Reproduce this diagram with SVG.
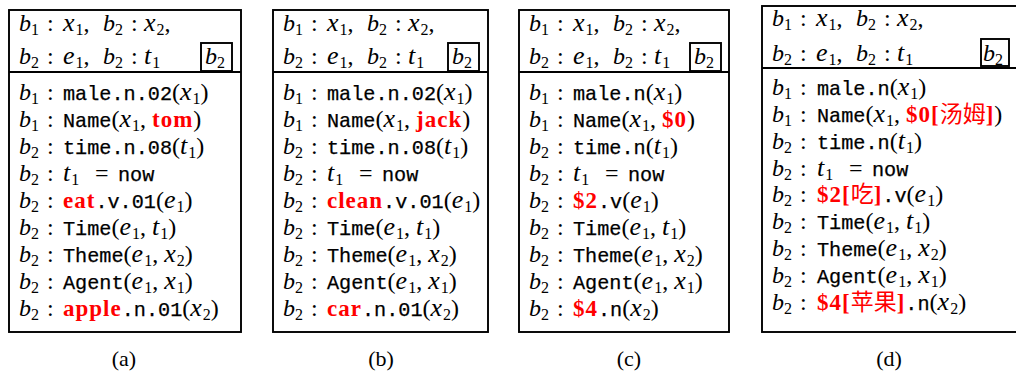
<svg xmlns="http://www.w3.org/2000/svg" width="1016" height="375" viewBox="0 0 1016 375">
<style>
text { font-family: "Liberation Serif", serif; font-size: 24px; fill: #000; }
.b { font-style: italic; }
.v { font-style: italic; font-size: 26px; letter-spacing: 1px; }
.s { font-size: 16px; font-style: normal; letter-spacing: 0; }
.m { font-family: "Liberation Mono", monospace; font-size: 20.2px; stroke: #000; stroke-width: 0.25px; }
.r { font-weight: bold; fill: #ff0000; font-size: 23px; letter-spacing: 1px; }
.cjk { font-family: "Noto Sans CJK SC", sans-serif; font-weight: normal; font-size: 23px; letter-spacing: 0; }
.frame { fill: none; stroke: #000; stroke-width: 1.9; }
.cap { font-size: 22px; text-anchor: middle; }
</style>
<rect width="1016" height="375" fill="#fff"/>

<g id="box-a" transform="translate(9,0)">
<rect class="frame" x="0" y="10" width="232" height="322"/>
<line class="frame" x1="0" y1="72" x2="232" y2="72"/>
<rect class="frame" x="192" y="43" width="31" height="28"/>
<text y="31"><tspan x="10" class="b">b</tspan><tspan class="s" dy="4">1</tspan><tspan x="38" dy="-4">:</tspan><tspan x="54" class="v">x</tspan><tspan class="s" dy="4">1</tspan><tspan dy="-4">,</tspan><tspan x="94" class="b">b</tspan><tspan class="s" dy="4">2</tspan><tspan x="122" dy="-4">:</tspan><tspan x="135" class="v">x</tspan><tspan class="s" dy="4">2</tspan><tspan dy="-4">,</tspan></text>
<text y="64"><tspan x="10" class="b">b</tspan><tspan class="s" dy="4">2</tspan><tspan x="38" dy="-4">:</tspan><tspan x="54" class="v">e</tspan><tspan class="s" dy="4">1</tspan><tspan dy="-4">,</tspan><tspan x="94" class="b">b</tspan><tspan class="s" dy="4">2</tspan><tspan x="122" dy="-4">:</tspan><tspan x="135" class="v">t</tspan><tspan class="s" dy="4">1</tspan></text>
<text y="64"><tspan x="196" class="b">b</tspan><tspan class="s" dy="4">2</tspan></text>
<text y="100"><tspan x="10" class="b">b</tspan><tspan class="s" dy="4">1</tspan><tspan x="38" dy="-4">:</tspan><tspan x="54" class="m">male.n.02</tspan>(<tspan class="v">x</tspan><tspan class="s" dy="4">1</tspan><tspan dy="-4">)</tspan></text>
<text y="127"><tspan x="10" class="b">b</tspan><tspan class="s" dy="4">1</tspan><tspan x="38" dy="-4">:</tspan><tspan x="54" class="m">Name</tspan>(<tspan class="v">x</tspan><tspan class="s" dy="4">1</tspan><tspan dy="-4">, </tspan><tspan class="r">tom</tspan>)</text>
<text y="154"><tspan x="10" class="b">b</tspan><tspan class="s" dy="4">2</tspan><tspan x="38" dy="-4">:</tspan><tspan x="54" class="m">time.n.08</tspan>(<tspan class="v">t</tspan><tspan class="s" dy="4">1</tspan><tspan dy="-4">)</tspan></text>
<text y="181"><tspan x="10" class="b">b</tspan><tspan class="s" dy="4">2</tspan><tspan x="38" dy="-4">:</tspan><tspan x="54" class="v">t</tspan><tspan class="s" dy="4">1</tspan><tspan x="86" dy="-4">=</tspan><tspan x="109" class="m">now</tspan></text>
<text y="208"><tspan x="10" class="b">b</tspan><tspan class="s" dy="4">2</tspan><tspan x="38" dy="-4">:</tspan><tspan x="54" class="r">eat</tspan><tspan class="m">.v.01</tspan>(<tspan class="v">e</tspan><tspan class="s" dy="4">1</tspan><tspan dy="-4">)</tspan></text>
<text y="235"><tspan x="10" class="b">b</tspan><tspan class="s" dy="4">2</tspan><tspan x="38" dy="-4">:</tspan><tspan x="54" class="m">Time</tspan>(<tspan class="v">e</tspan><tspan class="s" dy="4">1</tspan><tspan dy="-4">, </tspan><tspan class="v">t</tspan><tspan class="s" dy="4">1</tspan><tspan dy="-4">)</tspan></text>
<text y="262"><tspan x="10" class="b">b</tspan><tspan class="s" dy="4">2</tspan><tspan x="38" dy="-4">:</tspan><tspan x="54" class="m">Theme</tspan>(<tspan class="v">e</tspan><tspan class="s" dy="4">1</tspan><tspan dy="-4">, </tspan><tspan class="v">x</tspan><tspan class="s" dy="4">2</tspan><tspan dy="-4">)</tspan></text>
<text y="289"><tspan x="10" class="b">b</tspan><tspan class="s" dy="4">2</tspan><tspan x="38" dy="-4">:</tspan><tspan x="54" class="m">Agent</tspan>(<tspan class="v">e</tspan><tspan class="s" dy="4">1</tspan><tspan dy="-4">, </tspan><tspan class="v">x</tspan><tspan class="s" dy="4">1</tspan><tspan dy="-4">)</tspan></text>
<text y="316"><tspan x="10" class="b">b</tspan><tspan class="s" dy="4">2</tspan><tspan x="38" dy="-4">:</tspan><tspan x="54" class="r">apple</tspan><tspan class="m">.n.01</tspan>(<tspan class="v">x</tspan><tspan class="s" dy="4">2</tspan><tspan dy="-4">)</tspan></text>
</g>

<g id="box-b" transform="translate(273,0)">
<rect class="frame" x="0" y="10" width="215" height="322"/>
<line class="frame" x1="0" y1="72" x2="215" y2="72"/>
<rect class="frame" x="175" y="43" width="31" height="28"/>
<text y="31"><tspan x="10" class="b">b</tspan><tspan class="s" dy="4">1</tspan><tspan x="38" dy="-4">:</tspan><tspan x="54" class="v">x</tspan><tspan class="s" dy="4">1</tspan><tspan dy="-4">,</tspan><tspan x="94" class="b">b</tspan><tspan class="s" dy="4">2</tspan><tspan x="122" dy="-4">:</tspan><tspan x="135" class="v">x</tspan><tspan class="s" dy="4">2</tspan><tspan dy="-4">,</tspan></text>
<text y="64"><tspan x="10" class="b">b</tspan><tspan class="s" dy="4">2</tspan><tspan x="38" dy="-4">:</tspan><tspan x="54" class="v">e</tspan><tspan class="s" dy="4">1</tspan><tspan dy="-4">,</tspan><tspan x="94" class="b">b</tspan><tspan class="s" dy="4">2</tspan><tspan x="122" dy="-4">:</tspan><tspan x="135" class="v">t</tspan><tspan class="s" dy="4">1</tspan></text>
<text y="64"><tspan x="179" class="b">b</tspan><tspan class="s" dy="4">2</tspan></text>
<text y="100"><tspan x="10" class="b">b</tspan><tspan class="s" dy="4">1</tspan><tspan x="38" dy="-4">:</tspan><tspan x="54" class="m">male.n.02</tspan>(<tspan class="v">x</tspan><tspan class="s" dy="4">1</tspan><tspan dy="-4">)</tspan></text>
<text y="127"><tspan x="10" class="b">b</tspan><tspan class="s" dy="4">1</tspan><tspan x="38" dy="-4">:</tspan><tspan x="54" class="m">Name</tspan>(<tspan class="v">x</tspan><tspan class="s" dy="4">1</tspan><tspan dy="-4">, </tspan><tspan class="r">jack</tspan>)</text>
<text y="154"><tspan x="10" class="b">b</tspan><tspan class="s" dy="4">2</tspan><tspan x="38" dy="-4">:</tspan><tspan x="54" class="m">time.n.08</tspan>(<tspan class="v">t</tspan><tspan class="s" dy="4">1</tspan><tspan dy="-4">)</tspan></text>
<text y="181"><tspan x="10" class="b">b</tspan><tspan class="s" dy="4">2</tspan><tspan x="38" dy="-4">:</tspan><tspan x="54" class="v">t</tspan><tspan class="s" dy="4">1</tspan><tspan x="86" dy="-4">=</tspan><tspan x="109" class="m">now</tspan></text>
<text y="208"><tspan x="10" class="b">b</tspan><tspan class="s" dy="4">2</tspan><tspan x="38" dy="-4">:</tspan><tspan x="54" class="r">clean</tspan><tspan class="m">.v.01</tspan>(<tspan class="v">e</tspan><tspan class="s" dy="4">1</tspan><tspan dy="-4">)</tspan></text>
<text y="235"><tspan x="10" class="b">b</tspan><tspan class="s" dy="4">2</tspan><tspan x="38" dy="-4">:</tspan><tspan x="54" class="m">Time</tspan>(<tspan class="v">e</tspan><tspan class="s" dy="4">1</tspan><tspan dy="-4">, </tspan><tspan class="v">t</tspan><tspan class="s" dy="4">1</tspan><tspan dy="-4">)</tspan></text>
<text y="262"><tspan x="10" class="b">b</tspan><tspan class="s" dy="4">2</tspan><tspan x="38" dy="-4">:</tspan><tspan x="54" class="m">Theme</tspan>(<tspan class="v">e</tspan><tspan class="s" dy="4">1</tspan><tspan dy="-4">, </tspan><tspan class="v">x</tspan><tspan class="s" dy="4">2</tspan><tspan dy="-4">)</tspan></text>
<text y="289"><tspan x="10" class="b">b</tspan><tspan class="s" dy="4">2</tspan><tspan x="38" dy="-4">:</tspan><tspan x="54" class="m">Agent</tspan>(<tspan class="v">e</tspan><tspan class="s" dy="4">1</tspan><tspan dy="-4">, </tspan><tspan class="v">x</tspan><tspan class="s" dy="4">1</tspan><tspan dy="-4">)</tspan></text>
<text y="316"><tspan x="10" class="b">b</tspan><tspan class="s" dy="4">2</tspan><tspan x="38" dy="-4">:</tspan><tspan x="54" class="r">car</tspan><tspan class="m">.n.01</tspan>(<tspan class="v">x</tspan><tspan class="s" dy="4">2</tspan><tspan dy="-4">)</tspan></text>
</g>

<g id="box-c" transform="translate(519,0)">
<rect class="frame" x="0" y="10" width="210" height="322"/>
<line class="frame" x1="0" y1="72" x2="210" y2="72"/>
<rect class="frame" x="171" y="43" width="31" height="28"/>
<text y="31"><tspan x="10" class="b">b</tspan><tspan class="s" dy="4">1</tspan><tspan x="38" dy="-4">:</tspan><tspan x="54" class="v">x</tspan><tspan class="s" dy="4">1</tspan><tspan dy="-4">,</tspan><tspan x="94" class="b">b</tspan><tspan class="s" dy="4">2</tspan><tspan x="122" dy="-4">:</tspan><tspan x="135" class="v">x</tspan><tspan class="s" dy="4">2</tspan><tspan dy="-4">,</tspan></text>
<text y="64"><tspan x="10" class="b">b</tspan><tspan class="s" dy="4">2</tspan><tspan x="38" dy="-4">:</tspan><tspan x="54" class="v">e</tspan><tspan class="s" dy="4">1</tspan><tspan dy="-4">,</tspan><tspan x="94" class="b">b</tspan><tspan class="s" dy="4">2</tspan><tspan x="122" dy="-4">:</tspan><tspan x="135" class="v">t</tspan><tspan class="s" dy="4">1</tspan></text>
<text y="64"><tspan x="175" class="b">b</tspan><tspan class="s" dy="4">2</tspan></text>
<text y="100"><tspan x="10" class="b">b</tspan><tspan class="s" dy="4">1</tspan><tspan x="38" dy="-4">:</tspan><tspan x="54" class="m">male.n</tspan>(<tspan class="v">x</tspan><tspan class="s" dy="4">1</tspan><tspan dy="-4">)</tspan></text>
<text y="127"><tspan x="10" class="b">b</tspan><tspan class="s" dy="4">1</tspan><tspan x="38" dy="-4">:</tspan><tspan x="54" class="m">Name</tspan>(<tspan class="v">x</tspan><tspan class="s" dy="4">1</tspan><tspan dy="-4">, </tspan><tspan class="r">$0</tspan>)</text>
<text y="154"><tspan x="10" class="b">b</tspan><tspan class="s" dy="4">2</tspan><tspan x="38" dy="-4">:</tspan><tspan x="54" class="m">time.n</tspan>(<tspan class="v">t</tspan><tspan class="s" dy="4">1</tspan><tspan dy="-4">)</tspan></text>
<text y="181"><tspan x="10" class="b">b</tspan><tspan class="s" dy="4">2</tspan><tspan x="38" dy="-4">:</tspan><tspan x="54" class="v">t</tspan><tspan class="s" dy="4">1</tspan><tspan x="86" dy="-4">=</tspan><tspan x="109" class="m">now</tspan></text>
<text y="208"><tspan x="10" class="b">b</tspan><tspan class="s" dy="4">2</tspan><tspan x="38" dy="-4">:</tspan><tspan x="54" class="r">$2</tspan><tspan class="m">.v</tspan>(<tspan class="v">e</tspan><tspan class="s" dy="4">1</tspan><tspan dy="-4">)</tspan></text>
<text y="235"><tspan x="10" class="b">b</tspan><tspan class="s" dy="4">2</tspan><tspan x="38" dy="-4">:</tspan><tspan x="54" class="m">Time</tspan>(<tspan class="v">e</tspan><tspan class="s" dy="4">1</tspan><tspan dy="-4">, </tspan><tspan class="v">t</tspan><tspan class="s" dy="4">1</tspan><tspan dy="-4">)</tspan></text>
<text y="262"><tspan x="10" class="b">b</tspan><tspan class="s" dy="4">2</tspan><tspan x="38" dy="-4">:</tspan><tspan x="54" class="m">Theme</tspan>(<tspan class="v">e</tspan><tspan class="s" dy="4">1</tspan><tspan dy="-4">, </tspan><tspan class="v">x</tspan><tspan class="s" dy="4">2</tspan><tspan dy="-4">)</tspan></text>
<text y="289"><tspan x="10" class="b">b</tspan><tspan class="s" dy="4">2</tspan><tspan x="38" dy="-4">:</tspan><tspan x="54" class="m">Agent</tspan>(<tspan class="v">e</tspan><tspan class="s" dy="4">1</tspan><tspan dy="-4">, </tspan><tspan class="v">x</tspan><tspan class="s" dy="4">1</tspan><tspan dy="-4">)</tspan></text>
<text y="316"><tspan x="10" class="b">b</tspan><tspan class="s" dy="4">2</tspan><tspan x="38" dy="-4">:</tspan><tspan x="54" class="r">$4</tspan><tspan class="m">.n</tspan>(<tspan class="v">x</tspan><tspan class="s" dy="4">2</tspan><tspan dy="-4">)</tspan></text>
</g>

<g id="box-d" transform="translate(762,0)">
<rect class="frame" x="0" y="6" width="270" height="326"/>
<line class="frame" x1="0" y1="68" x2="270" y2="68"/>
<rect class="frame" x="219" y="39" width="28" height="27"/>
<text y="26"><tspan x="10" class="b">b</tspan><tspan class="s" dy="4">1</tspan><tspan x="38" dy="-4">:</tspan><tspan x="54" class="v">x</tspan><tspan class="s" dy="4">1</tspan><tspan dy="-4">,</tspan><tspan x="94" class="b">b</tspan><tspan class="s" dy="4">2</tspan><tspan x="122" dy="-4">:</tspan><tspan x="135" class="v">x</tspan><tspan class="s" dy="4">2</tspan><tspan dy="-4">,</tspan></text>
<text y="61"><tspan x="10" class="b">b</tspan><tspan class="s" dy="4">2</tspan><tspan x="38" dy="-4">:</tspan><tspan x="54" class="v">e</tspan><tspan class="s" dy="4">1</tspan><tspan dy="-4">,</tspan><tspan x="94" class="b">b</tspan><tspan class="s" dy="4">2</tspan><tspan x="122" dy="-4">:</tspan><tspan x="135" class="v">t</tspan><tspan class="s" dy="4">1</tspan></text>
<text y="61"><tspan x="221" class="b">b</tspan><tspan class="s" dy="4">2</tspan></text>
<text y="95"><tspan x="10" class="b">b</tspan><tspan class="s" dy="4">1</tspan><tspan x="38" dy="-4">:</tspan><tspan x="55" class="m">male.n</tspan>(<tspan class="v">x</tspan><tspan class="s" dy="4">1</tspan><tspan dy="-4">)</tspan></text>
<text y="122"><tspan x="10" class="b">b</tspan><tspan class="s" dy="4">1</tspan><tspan x="38" dy="-4">:</tspan><tspan x="55" class="m">Name</tspan>(<tspan class="v">x</tspan><tspan class="s" dy="4">1</tspan><tspan dy="-4">, </tspan><tspan class="r">$0[<tspan class="cjk">汤姆</tspan>]</tspan>)</text>
<text y="149"><tspan x="10" class="b">b</tspan><tspan class="s" dy="4">2</tspan><tspan x="38" dy="-4">:</tspan><tspan x="55" class="m">time.n</tspan>(<tspan class="v">t</tspan><tspan class="s" dy="4">1</tspan><tspan dy="-4">)</tspan></text>
<text y="176"><tspan x="10" class="b">b</tspan><tspan class="s" dy="4">2</tspan><tspan x="38" dy="-4">:</tspan><tspan x="55" class="v">t</tspan><tspan class="s" dy="4">1</tspan><tspan x="87" dy="-4">=</tspan><tspan x="110" class="m">now</tspan></text>
<text y="202"><tspan x="10" class="b">b</tspan><tspan class="s" dy="4">2</tspan><tspan x="38" dy="-4">:</tspan><tspan x="55" class="r">$2[<tspan class="cjk">吃</tspan>]</tspan><tspan class="m">.v</tspan>(<tspan class="v">e</tspan><tspan class="s" dy="4">1</tspan><tspan dy="-4">)</tspan></text>
<text y="229"><tspan x="10" class="b">b</tspan><tspan class="s" dy="4">2</tspan><tspan x="38" dy="-4">:</tspan><tspan x="55" class="m">Time</tspan>(<tspan class="v">e</tspan><tspan class="s" dy="4">1</tspan><tspan dy="-4">, </tspan><tspan class="v">t</tspan><tspan class="s" dy="4">1</tspan><tspan dy="-4">)</tspan></text>
<text y="256"><tspan x="10" class="b">b</tspan><tspan class="s" dy="4">2</tspan><tspan x="38" dy="-4">:</tspan><tspan x="55" class="m">Theme</tspan>(<tspan class="v">e</tspan><tspan class="s" dy="4">1</tspan><tspan dy="-4">, </tspan><tspan class="v">x</tspan><tspan class="s" dy="4">2</tspan><tspan dy="-4">)</tspan></text>
<text y="283"><tspan x="10" class="b">b</tspan><tspan class="s" dy="4">2</tspan><tspan x="38" dy="-4">:</tspan><tspan x="55" class="m">Agent</tspan>(<tspan class="v">e</tspan><tspan class="s" dy="4">1</tspan><tspan dy="-4">, </tspan><tspan class="v">x</tspan><tspan class="s" dy="4">1</tspan><tspan dy="-4">)</tspan></text>
<text y="310"><tspan x="10" class="b">b</tspan><tspan class="s" dy="4">2</tspan><tspan x="38" dy="-4">:</tspan><tspan x="55" class="r">$4[<tspan class="cjk">苹果</tspan>]</tspan><tspan class="m">.n</tspan>(<tspan class="v">x</tspan><tspan class="s" dy="4">2</tspan><tspan dy="-4">)</tspan></text>
</g>

<g id="captions">
<text class="cap" x="124" y="366">(a)</text>
<text class="cap" x="381" y="366">(b)</text>
<text class="cap" x="629" y="366">(c)</text>
<text class="cap" x="889" y="366">(d)</text>
</g>
</svg>
